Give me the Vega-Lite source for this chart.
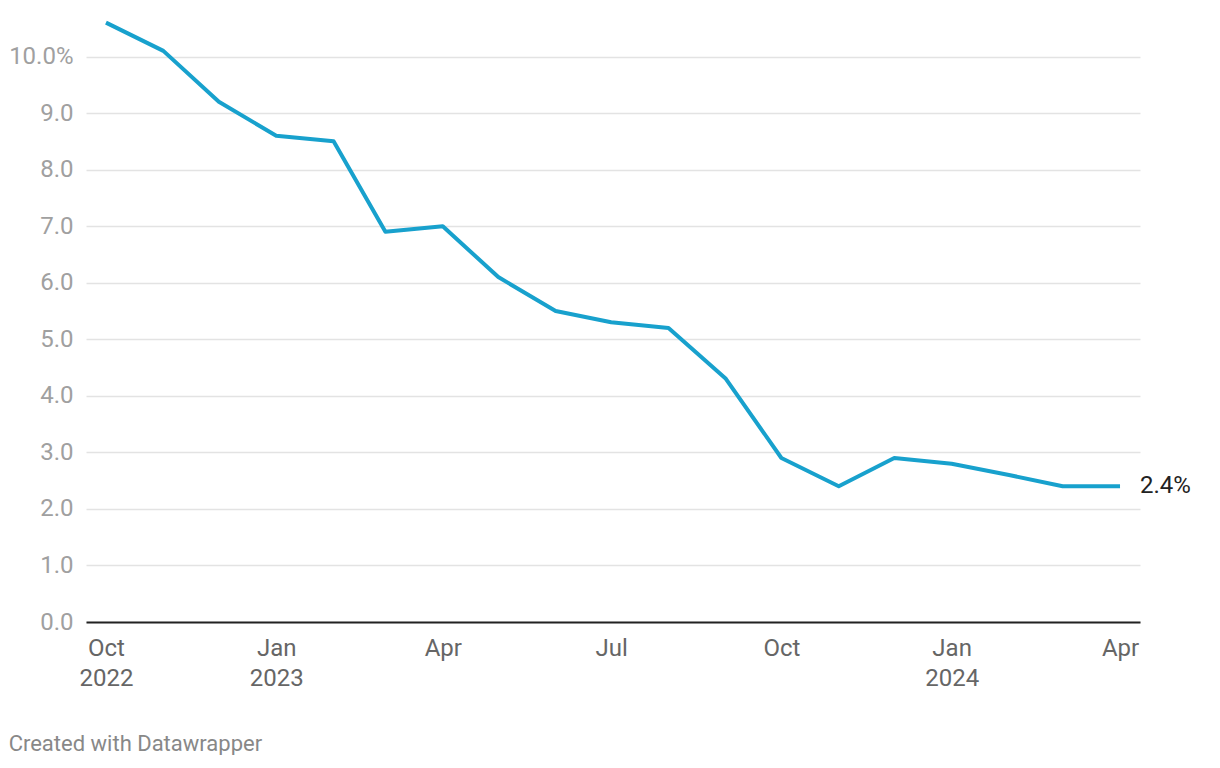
{
  "$schema": "https://vega.github.io/schema/vega-lite/v6.json",
  "width": 1054,
  "height": 622,
  "padding": {"left": 8, "top": 0, "right": 0, "bottom": 0},
  "background": "white",
  "config": {
    "view": {"stroke": null},
    "font": "Roboto"
  },
  "title": {
    "text": "Created with Datawrapper",
    "orient": "bottom",
    "anchor": "start",
    "frame": "bounds",
    "font": "Roboto",
    "fontSize": 22,
    "fontWeight": "normal",
    "color": "#888888",
    "offset": 44
  },
  "data": {
    "values": [
      {"date": "2022-10-01", "rate": 10.6},
      {"date": "2022-11-01", "rate": 10.1},
      {"date": "2022-12-01", "rate": 9.2},
      {"date": "2023-01-01", "rate": 8.6},
      {"date": "2023-02-01", "rate": 8.5},
      {"date": "2023-03-01", "rate": 6.9},
      {"date": "2023-04-01", "rate": 7.0},
      {"date": "2023-05-01", "rate": 6.1},
      {"date": "2023-06-01", "rate": 5.5},
      {"date": "2023-07-01", "rate": 5.3},
      {"date": "2023-08-01", "rate": 5.2},
      {"date": "2023-09-01", "rate": 4.3},
      {"date": "2023-10-01", "rate": 2.9},
      {"date": "2023-11-01", "rate": 2.4},
      {"date": "2023-12-01", "rate": 2.9},
      {"date": "2024-01-01", "rate": 2.8},
      {"date": "2024-02-01", "rate": 2.6},
      {"date": "2024-03-01", "rate": 2.4},
      {"date": "2024-04-01", "rate": 2.4}
    ]
  },
  "encoding": {
    "x": {
      "field": "date",
      "type": "temporal",
      "scale": {
        "type": "utc",
        "domain": [
          {"year": 2022, "month": 9, "date": 20, "hours": 5, "utc": true},
          {"year": 2024, "month": 4, "date": 11, "hours": 19, "utc": true}
        ]
      },
      "axis": {
        "title": null,
        "values": [
          {"year": 2022, "month": 10, "date": 1, "utc": true},
          {"year": 2023, "month": 1, "date": 1, "utc": true},
          {"year": 2023, "month": 4, "date": 1, "utc": true},
          {"year": 2023, "month": 7, "date": 1, "utc": true},
          {"year": 2023, "month": 10, "date": 1, "utc": true},
          {"year": 2024, "month": 1, "date": 1, "utc": true},
          {"year": 2024, "month": 4, "date": 1, "utc": true}
        ],
        "labelExpr": "(utcmonth(datum.value) == 0 || utcyear(datum.value) == 2022) ? [utcFormat(datum.value, '%b'), utcFormat(datum.value, '%Y')] : utcFormat(datum.value, '%b')",
        "labelFont": "Roboto",
        "labelFontSize": 24,
        "labelColor": "#666666",
        "labelLineHeight": 30,
        "labelPadding": 14,
        "labelBaseline": "top",
        "ticks": false,
        "grid": false,
        "domain": true,
        "domainColor": "#222222",
        "domainWidth": 2,
        "labelOverlap": false
      }
    },
    "y": {
      "field": "rate",
      "type": "quantitative",
      "scale": {"domain": [0, 11], "nice": false, "zero": true},
      "axis": {
        "title": null,
        "values": [0, 1, 2, 3, 4, 5, 6, 7, 8, 9, 10],
        "labelExpr": "datum.value == 10 ? '10.0%' : format(datum.value, '.1f')",
        "labelFont": "Roboto",
        "labelFontSize": 24,
        "labelColor": "#a0a0a0",
        "labelPadding": 13,
        "minExtent": 76,
        "maxExtent": 76,
        "ticks": false,
        "domain": false,
        "grid": true,
        "gridColor": "#e3e3e3",
        "gridWidth": 1.5
      }
    }
  },
  "layer": [
    {
      "mark": {"type": "line", "color": "#18a1cd", "strokeWidth": 4, "strokeJoin": "round", "strokeCap": "butt"}
    },
    {
      "transform": [
        {"filter": "utcyear(datum.date) == 2024 && utcmonth(datum.date) == 3"},
        {"calculate": "format(datum.rate, '.1f') + '%'", "as": "label"}
      ],
      "mark": {"type": "text", "align": "left", "baseline": "middle", "dx": 20, "font": "Roboto", "fontSize": 24, "color": "#222222"},
      "encoding": {"text": {"field": "label"}}
    }
  ]
}
